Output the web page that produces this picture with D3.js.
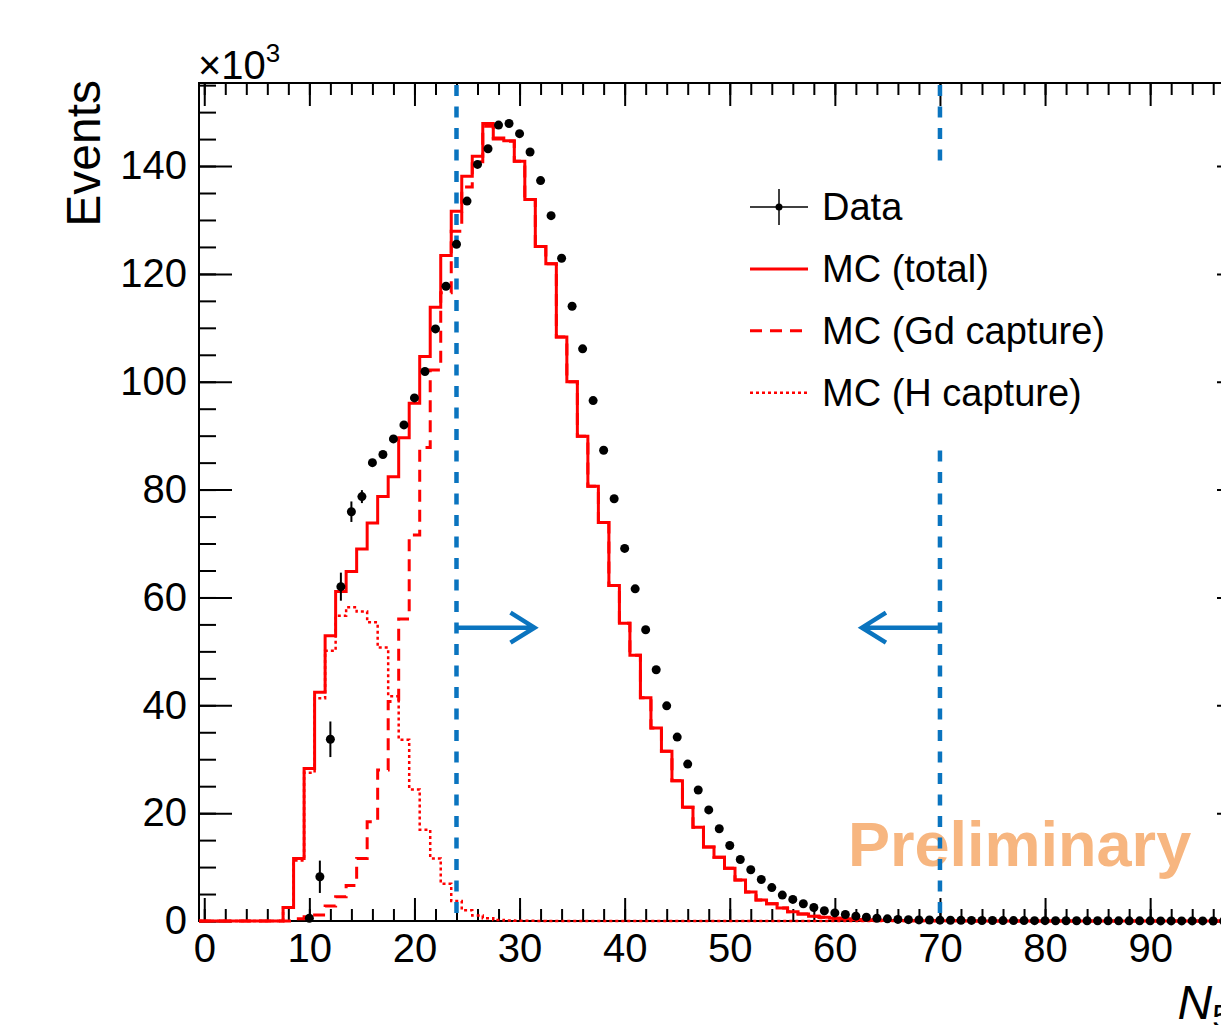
<!DOCTYPE html>
<html>
<head>
<meta charset="utf-8">
<script src="https://cdn.jsdelivr.net/npm/d3@7"></script>
<style>
body { margin: 0; background: #fff; }
svg { display: block; }
text { font-family: "Liberation Sans", Arial, Helvetica, sans-serif; }
</style>
</head>
<body>
<svg id="drawing_region"></svg>
<script>
// bins 0..99 (width 1, centred on integers), values in units of 10^3 events
const binCenters = d3.range(0, 100);

const mcTotal = [
    0, 0, 0, 0, 0, 0, 0, 0, 2.5, 11.6,
    28.3, 42.4, 52.9, 61.1, 64.8, 69.0, 73.8, 78.7, 82.4, 89.6,
    96.0, 104.7, 113.8, 123.4, 131.6, 138.1, 141.8, 147.9, 145.2, 144.7,
    140.9, 133.8, 125.1, 121.9, 108.3, 100.0, 89.9, 80.6, 73.9, 62.2,
    55.2, 49.3, 41.4, 35.8, 31.5, 26.0, 21.1, 17.4, 13.7, 11.8,
    9.8, 7.6, 5.4, 3.9, 3.2, 2.4, 1.7, 1.3, 0.9, 0.7,
    0.5, 0.4, 0.3, 0.2, 0.15, 0.1, 0.08, 0.06, 0.05, 0.04,
    0.04, 0.03, 0.03, 0.02, 0.02, 0.02, 0.01, 0.01, 0.01, 0.01,
    0.01, 0.01, 0, 0, 0, 0, 0, 0, 0, 0,
    0, 0, 0, 0, 0, 0, 0, 0, 0, 0
];

const mcGd = [
    0, 0, 0, 0, 0, 0, 0, 0, 0, 0.4,
    0.8, 1.1, 2.8, 4.5, 6.6, 11.6, 18.4, 28.0, 40.7, 56.0,
    71.6, 87.8, 102.2, 116.5, 127.9, 136.1, 140.8, 147.4, 145.0, 144.6,
    140.9, 133.8, 125.1, 121.9, 108.3, 100.0, 89.9, 80.6, 73.9, 62.2,
    55.2, 49.3, 41.4, 35.8, 31.5, 26.0, 21.1, 17.4, 13.7, 11.8,
    9.8, 7.6, 5.4, 3.9, 3.2, 2.4, 1.7, 1.3, 0.9, 0.7,
    0.5, 0.4, 0.3, 0.2, 0.15, 0.1, 0.08, 0.06, 0.05, 0.04,
    0.04, 0.03, 0.03, 0.02, 0.02, 0.02, 0.01, 0.01, 0.01, 0.01,
    0.01, 0.01, 0, 0, 0, 0, 0, 0, 0, 0,
    0, 0, 0, 0, 0, 0, 0, 0, 0, 0
];

const mcH = [
    0, 0, 0, 0, 0, 0, 0, 0, 2.5, 11.2,
    27.5, 41.3, 50.1, 56.6, 58.2, 57.4, 55.4, 50.7, 41.7, 33.6,
    24.4, 16.9, 11.6, 6.9, 3.7, 2.0, 1.0, 0.5, 0.2, 0.1,
    0.05, 0.03, 0.02, 0.01, 0, 0, 0, 0, 0, 0,
    0, 0, 0, 0, 0, 0, 0, 0, 0, 0,
    0, 0, 0, 0, 0, 0, 0, 0, 0, 0,
    0, 0, 0, 0, 0, 0, 0, 0, 0, 0,
    0, 0, 0, 0, 0, 0, 0, 0, 0, 0,
    0, 0, 0, 0, 0, 0, 0, 0, 0, 0,
    0, 0, 0, 0, 0, 0, 0, 0, 0, 0
];

// data points (bins 10..99)
const dataX = d3.range(10, 100);
const dataY = [
    0.5, 8.2, 33.7, 62.0, 75.9, 78.7, 85.0, 86.5, 89.4, 92.0,
    97.0, 101.9, 109.8, 117.7, 125.5, 133.5, 140.3, 143.2, 147.6, 147.9,
    146.0, 142.6, 137.3, 130.8, 122.9, 114.0, 106.1, 96.5, 87.3, 78.3,
    69.1, 61.6, 54.0, 46.6, 39.9, 34.1, 29.1, 24.3, 20.6, 17.1,
    14.0, 11.4, 9.5, 7.7, 6.2, 4.8, 4.0, 3.2, 2.5, 1.9,
    1.5, 1.2, 0.9, 0.7, 0.5, 0.4, 0.3, 0.25, 0.2, 0.18,
    0.16, 0.14, 0.12, 0.11, 0.1, 0.09, 0.08, 0.07, 0.07, 0.06,
    0.06, 0.05, 0.05, 0.05, 0.04, 0.04, 0.04, 0.03, 0.03, 0.03,
    0.03, 0.02, 0.02, 0.02, 0.02, 0.02, 0.01, 0.01, 0.01, 0.01
];
const dataErr = [
    0.3, 3.0, 3.3, 2.6, 1.9, 1.2, 0.8, 0.7, 0.6, 0.6,
    0.6, 0.6, 0.6, 0.6, 0.5, 0.5, 0.5, 0.5, 0.5, 0.5,
    0.5, 0.5, 0.5, 0.5, 0.5, 0.5, 0.5, 0.5, 0.5, 0.5,
    0.4, 0.4, 0.4, 0.4, 0.4, 0.4, 0.4, 0.3, 0.3, 0.3,
    0.3, 0.3, 0.3, 0.3, 0.2, 0.2, 0.2, 0.2, 0.2, 0.2,
    0.1, 0.1, 0.1, 0.1, 0.1, 0.1, 0.1, 0.1, 0.1, 0.1,
    0.1, 0.1, 0.1, 0.1, 0.1, 0.1, 0.1, 0.1, 0.1, 0.1,
    0.1, 0.1, 0.1, 0.1, 0.1, 0.1, 0.1, 0.1, 0.1, 0.1,
    0.1, 0.1, 0.1, 0.1, 0.1, 0.1, 0.1, 0.1, 0.1, 0.1
];

// selection window (N50) and arrow height
const cutValues = [24, 70];
const arrowLevel = 54.4;

const xMajorTicks = d3.range(0, 100, 10);
const xMinorTicks = d3.range(0, 100, 2);
const yMajorTicks = [0, 20, 40, 60, 80, 100, 120, 140];
const yMinorTicks = d3.range(0, 156, 5);

const legendLabels = ['Data', 'MC (total)', 'MC (Gd capture)', 'MC (H capture)'];

class HistPlot {
    constructor(config) {
        this.config = {
            parent: config.parent,
            width: config.width || 1221,
            height: config.height || 1025,
            left: 199, right: 1250, top: 83, bottom: 921
        };
        this.init();
    }

    init() {
        let self = this;
        const c = self.config;

        self.svg = d3.select(c.parent)
            .attr('width', c.width)
            .attr('height', c.height);

        self.xscale = d3.scaleLinear().domain([-0.5, 99.5]).range([c.left, c.right]);
        self.yscale = d3.scaleLinear().domain([0, 155.4]).range([c.bottom, c.top]);

        self.hist = d3.line()
            .x(d => self.xscale(d[0]))
            .y(d => self.yscale(d[1]))
            .curve(d3.curveStepAfter);
    }

    axis(gen, values, size, fmt, transform) {
        let self = this;
        const g = self.svg.append('g')
            .attr('transform', transform)
            .call(gen.tickValues(values).tickSizeInner(size).tickSizeOuter(0)
                .tickPadding(12).tickFormat(fmt));
        g.select('.domain').remove();
        g.selectAll('line').attr('stroke', '#000').attr('stroke-width', 2);
        g.selectAll('text').attr('font-size', 40).attr('fill', '#000');
        return g;
    }

    render() {
        let self = this;
        const c = self.config;
        const x = self.xscale, y = self.yscale;
        const none = () => '';

        // axes with inward ticks
        self.axis(d3.axisBottom(x), xMinorTicks, -12, none, `translate(0,${c.bottom})`);
        self.axis(d3.axisBottom(x), xMajorTicks, -23, d3.format('d'), `translate(0,${c.bottom})`)
            .selectAll('text').attr('dy', '0.72em');
        self.axis(d3.axisTop(x), xMinorTicks, -12, none, `translate(0,${c.top})`);
        self.axis(d3.axisTop(x), xMajorTicks, -23, none, `translate(0,${c.top})`);
        self.axis(d3.axisLeft(y), yMinorTicks, -17, none, `translate(${c.left},0)`);
        self.axis(d3.axisLeft(y), yMajorTicks, -33, d3.format('d'), `translate(${c.left},0)`);
        self.axis(d3.axisRight(y), yMinorTicks, -17, none, `translate(${c.right},0)`);
        self.axis(d3.axisRight(y), yMajorTicks, -33, none, `translate(${c.right},0)`);

        self.svg.append('rect')
            .attr('x', c.left).attr('y', c.top)
            .attr('width', c.right - c.left).attr('height', c.bottom - c.top)
            .attr('fill', 'none').attr('stroke', '#000').attr('stroke-width', 2);

        // titles
        self.svg.append('text')
            .attr('transform', `translate(100, 80) rotate(-90)`)
            .attr('text-anchor', 'end')
            .attr('font-size', 48)
            .text('Events');

        const mult = self.svg.append('text')
            .attr('x', 198).attr('y', 79)
            .attr('font-size', 40);
        mult.append('tspan').text('\u00d710');
        mult.append('tspan').attr('font-size', 26).attr('dy', -17).text('3');

        const xt = self.svg.append('text')
            .attr('x', c.right).attr('y', 1019)
            .attr('text-anchor', 'end')
            .attr('font-size', 48);
        xt.append('tspan').attr('font-style', 'italic').text('N');
        xt.append('tspan').attr('font-size', 34).attr('dy', 9).text('50');

        self.svg.append('text')
            .attr('x', 848).attr('y', 866)
            .attr('font-size', 63)
            .attr('font-weight', 'bold')
            .attr('fill', '#f7b680')
            .text('Preliminary');

        // MC histograms
        const steps = vals => {
            const pts = binCenters.map((b, i) => [b - 0.5, vals[i]]);
            pts.push([binCenters[binCenters.length - 1] + 0.5, vals[vals.length - 1]]);
            return pts;
        };

        self.svg.append('path')
            .attr('d', self.hist(steps(mcH)))
            .attr('fill', 'none').attr('stroke', '#ff0000')
            .attr('stroke-width', 2.5).attr('stroke-dasharray', '3,3');

        self.svg.append('path')
            .attr('d', self.hist(steps(mcGd)))
            .attr('fill', 'none').attr('stroke', '#ff0000')
            .attr('stroke-width', 3).attr('stroke-dasharray', '12,8');

        self.svg.append('path')
            .attr('d', self.hist(steps(mcTotal)))
            .attr('fill', 'none').attr('stroke', '#ff0000')
            .attr('stroke-width', 3);

        // cut lines
        self.svg.selectAll('.cut')
            .data(cutValues)
            .enter().append('line')
            .attr('x1', d => x(d)).attr('x2', d => x(d))
            .attr('y1', c.top + 2).attr('y2', c.bottom)
            .attr('stroke', '#0a74bf').attr('stroke-width', 4.5)
            .attr('stroke-dasharray', '11,10.5');

        // data points
        const pts = dataX.map((d, i) => ({x: d, y: dataY[i], e: dataErr[i]}));
        self.svg.selectAll('.err')
            .data(pts.filter(p => y(0) - y(p.e) > 5))
            .enter().append('line')
            .attr('x1', d => x(d.x)).attr('x2', d => x(d.x))
            .attr('y1', d => y(d.y + d.e)).attr('y2', d => Math.min(y(d.y - d.e), c.bottom))
            .attr('stroke', '#000').attr('stroke-width', 2);
        self.svg.selectAll('.dot')
            .data(pts)
            .enter().append('circle')
            .attr('cx', d => x(d.x)).attr('cy', d => y(d.y))
            .attr('r', 4.5).attr('fill', '#000');

        // legend
        self.svg.append('rect')
            .attr('x', 742).attr('y', 166).attr('width', 373).attr('height', 274)
            .attr('fill', '#fff');

        const lg = self.svg.append('g');
        legendLabels.forEach((label, i) => {
            const cy = 207 + i * 61.9;
            lg.append('text')
                .attr('x', 822).attr('y', cy + 13)
                .attr('font-size', 38)
                .text(label);
            if (i === 0) {
                lg.append('line').attr('x1', 750).attr('x2', 808).attr('y1', cy).attr('y2', cy)
                    .attr('stroke', '#000').attr('stroke-width', 1.5);
                lg.append('line').attr('x1', 779).attr('x2', 779).attr('y1', cy - 18).attr('y2', cy + 18)
                    .attr('stroke', '#000').attr('stroke-width', 1.5);
                lg.append('circle').attr('cx', 779).attr('cy', cy).attr('r', 3.5).attr('fill', '#000');
            } else {
                lg.append('line').attr('x1', 750).attr('x2', 808).attr('y1', cy).attr('y2', cy)
                    .attr('stroke', '#ff0000')
                    .attr('stroke-width', i === 3 ? 2.5 : 3)
                    .attr('stroke-dasharray', i === 2 ? '12,8' : (i === 3 ? '3,3' : null));
            }
        });

        // arrows pointing into the selected window
        const ay = y(arrowLevel);
        const arrow = (x0, dir) => {
            const tip = x0 + dir * 78;
            return `M${x0},${ay}L${tip},${ay}M${tip - dir * 24},${ay - 15}L${tip},${ay}L${tip - dir * 24},${ay + 15}`;
        };
        self.svg.append('path')
            .attr('d', arrow(x(cutValues[0]), 1) + arrow(x(cutValues[1]), -1))
            .attr('fill', 'none').attr('stroke', '#0a74bf')
            .attr('stroke-width', 4.5).attr('stroke-linejoin', 'miter');
    }
}

let plot = new HistPlot({parent: '#drawing_region', width: 1221, height: 1025});
plot.render();
</script>
</body>
</html>
